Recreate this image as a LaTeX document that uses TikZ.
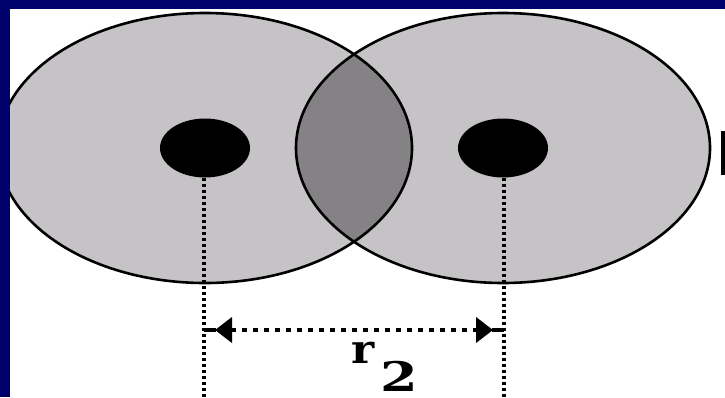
\documentclass[tikz,border=0pt]{standalone}
\usepackage{fontspec}
\setmainfont{DejaVu Serif}
\usetikzlibrary{arrows.meta,calc,shapes.geometric}
\definecolor{navy}{RGB}{0,0,106}
\definecolor{cloud}{RGB}{198,195,198}
\definecolor{overlap}{RGB}{132,130,132}
\tikzset{shell/.style={draw=black, line width=2.6pt},
  nucleus/.style={ellipse, fill=black, minimum width=90pt, minimum height=59pt, inner sep=0pt},
  guide/.style={line width=4pt, dash pattern=on 3pt off 3pt},
  dim/.style={line width=4pt, dash pattern=on 5pt off 6pt,
    {Triangle[length=17pt,width=25pt]}-{Triangle[length=17pt,width=25pt]}}}

\begin{document}
\begin{tikzpicture}[x=1pt,y=-1pt]
  \useasboundingbox (0,0) rectangle (725,397);
  \fill[white] (0,0) rectangle (725,397);
  % electron clouds
  \begin{scope}
    \clip (10,9) rectangle (725,397);
    \fill[cloud] (205,148) ellipse [x radius=207pt, y radius=135pt];
    \fill[cloud] (503,148) ellipse [x radius=207pt, y radius=135pt];
    \begin{scope}
      \clip (205,148) ellipse [x radius=207pt, y radius=135pt];
      \fill[overlap] (503,148) ellipse [x radius=207pt, y radius=135pt];
    \end{scope}
    \draw[shell] (205,148) ellipse [x radius=207pt, y radius=135pt];
    \draw[shell] (503,148) ellipse [x radius=207pt, y radius=135pt];
  \end{scope}
  % frame
  \fill[navy] (0,0) rectangle (725,9);
  \fill[navy] (0,0) rectangle (10,397);
  % nuclei
  \node[nucleus] (nucL) at (205,148) {};
  \node[nucleus] (nucR) at (503,148) {};
  \coordinate (footL) at (204,397);
  \coordinate (footR) at (504,397);
  \draw[guide] (nucL.south -| footL) -- (footL);
  \draw[guide] (nucR.south -| footR) -- (footR);
  % distance r2
  \coordinate (dimL) at (204,330);
  \coordinate (dimR) at (504,330);
  \draw[dim, shorten <=11pt, shorten >=11pt] (dimL) -- (dimR);
  \draw[line width=4pt] (dimL) -- ++(12,0) (dimR) -- ++(-12,0);
  \node[anchor=base west, inner sep=0pt, font=\fontsize{40}{40}\selectfont\bfseries] (rlbl) at (351,363) {\scalebox{1.1}[1]{r}\hspace{6pt}\raisebox{-28pt}{\scalebox{1.35}[1.02]{2}}};
  % cut-off mark at the right edge
  \fill (721,131) rectangle (725,175);
\end{tikzpicture}
\end{document}
